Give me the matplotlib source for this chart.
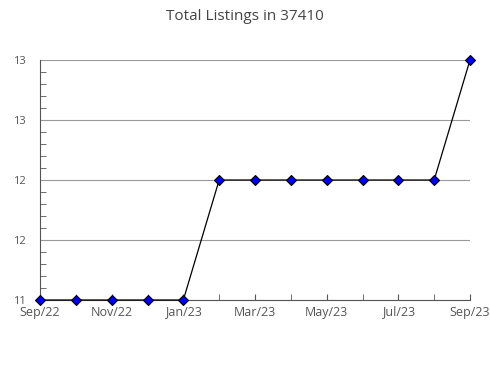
import numpy as np
import matplotlib
matplotlib.use("Agg")
import matplotlib.pyplot as plt
from matplotlib.ticker import MultipleLocator, FuncFormatter

# === Data ===
months = ["Sep/22", "Oct/22", "Nov/22", "Dec/22", "Jan/23", "Feb/23", "Mar/23",
          "Apr/23", "May/23", "Jun/23", "Jul/23", "Aug/23", "Sep/23"]
listings = [11, 11, 11, 11, 11, 12, 12, 12, 12, 12, 12, 12, 13]

plt.rcParams["font.family"] = ["Open Sans", "DejaVu Sans"]

fig = plt.figure(figsize=(4.9, 3.8), dpi=100)
ax = fig.add_axes([40 / 490, 80 / 380, 430 / 490, 240 / 380])

x = np.arange(len(months))
ax.plot(x, listings, color="black", lw=0.9, marker="D", markersize=5.5,
        markerfacecolor="#0000ee", markeredgecolor="black", markeredgewidth=0.8,
        zorder=3, clip_on=False)

ax.set_xlim(0, len(months) - 1)
ax.set_ylim(11, 13)
ax.set_xticks(x[::2])
ax.set_xticklabels(months[::2])
ax.set_xticks(x, minor=True)
ax.yaxis.set_major_locator(MultipleLocator(0.5))
ax.yaxis.set_minor_locator(MultipleLocator(0.1))
# labels rounded half up, like the original (12.5 -> 13)
ax.yaxis.set_major_formatter(FuncFormatter(lambda v, p: f"{int(np.floor(v + 0.5))}"))

ax.grid(axis="y", color="#999999", lw=0.8)
ax.set_axisbelow(True)
for s in ["top", "right"]:
    ax.spines[s].set_visible(False)
for s in ["left", "bottom"]:
    ax.spines[s].set_color("#555555")
ax.tick_params(axis="both", which="both", direction="in", colors="#555555",
               labelcolor="#555555")
ax.tick_params(axis="y", which="major", length=0, pad=10, labelsize=8)
ax.tick_params(axis="y", which="minor", length=4)
ax.tick_params(axis="x", which="both", length=4, pad=4, labelsize=9)

fig.suptitle("Total Listings in 37410", y=0.975, fontsize=11, color="#444444")

fig.savefig("out.png", dpi=100)
